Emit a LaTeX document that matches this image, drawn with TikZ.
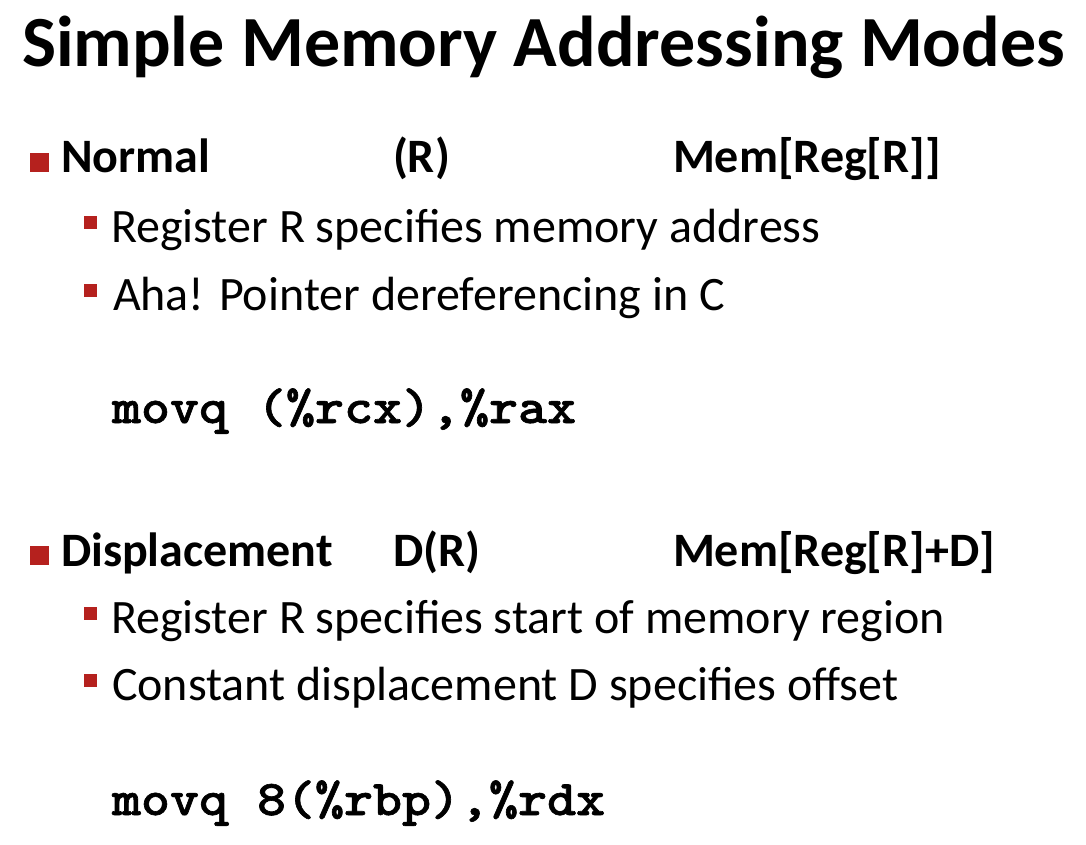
\documentclass[tikz,border=0pt]{standalone}
\usepackage{fontspec}
\usepackage{graphicx}
\setmainfont{Carlito}
\newfontfamily\codefont{lmmonolt10-bold.otf}[FakeBold=1.2]
\usetikzlibrary{positioning}
\definecolor{bulletred}{RGB}{181,33,30}

\begin{document}
\begin{tikzpicture}[x=1pt, y=-1pt,
    every node/.style={inner sep=0pt, outer sep=0pt, anchor=base west},
    title/.style={font=\fontsize{72}{86}\selectfont\bfseries},
    head/.style={font=\fontsize{48}{58}\selectfont\bfseries},
    body/.style={font=\fontsize{48}{58}\selectfont},
    code/.style={font=\fontsize{50}{60}\selectfont\codefont},
    bigbox/.style={fill=bulletred, minimum size=19pt, anchor=south west},
    smallbox/.style={fill=bulletred, minimum size=13pt, anchor=center}]
    \useasboundingbox (0,0) rectangle (1086,845);
    \node[title] (title) at (22,67) {Simple Memory Addressing Modes};
    % normal
    \node[bigbox] (b1) at (30,172) {};
    \node[head] (normal) at (61,173) {Normal};
    \node[head] (normsyn) at (393,173) {(R)};
    \node[head] (normsem) at (673,173) {Mem[Reg[R]]};
    \node[smallbox] (s1) at (90,222) {};
    \node[body] (reg1) at (111,242) {Register R specifies memory address};
    \node[smallbox] (s2) at (90,290) {};
    \node[body] (aha) at (113,310) {Aha! Pointer dereferencing in C};
    \node[code] (code1) at (112,423) {\scalebox{1.105}[1]{movq (\%rcx),\%rax}};
    % displacement
    \node[bigbox] (b2) at (30,565) {};
    \node[head] (disp) at (61,566) {Displacement};
    \node[head] (dispsyn) at (393,566) {D(R)};
    \node[head] (dispsem) at (673,566) {Mem[Reg[R]+D]};
    \node[smallbox] (s3) at (90,613) {};
    \node[body] (reg2) at (111,633) {Register R specifies start of memory region};
    \node[smallbox] (s4) at (90,680) {};
    \node[body] (const) at (112,700) {Constant displacement D specifies offset};
    \node[code] (code2) at (112,815) {\scalebox{1.105}[1]{movq 8(\%rbp),\%rdx}};
\end{tikzpicture}
\end{document}
